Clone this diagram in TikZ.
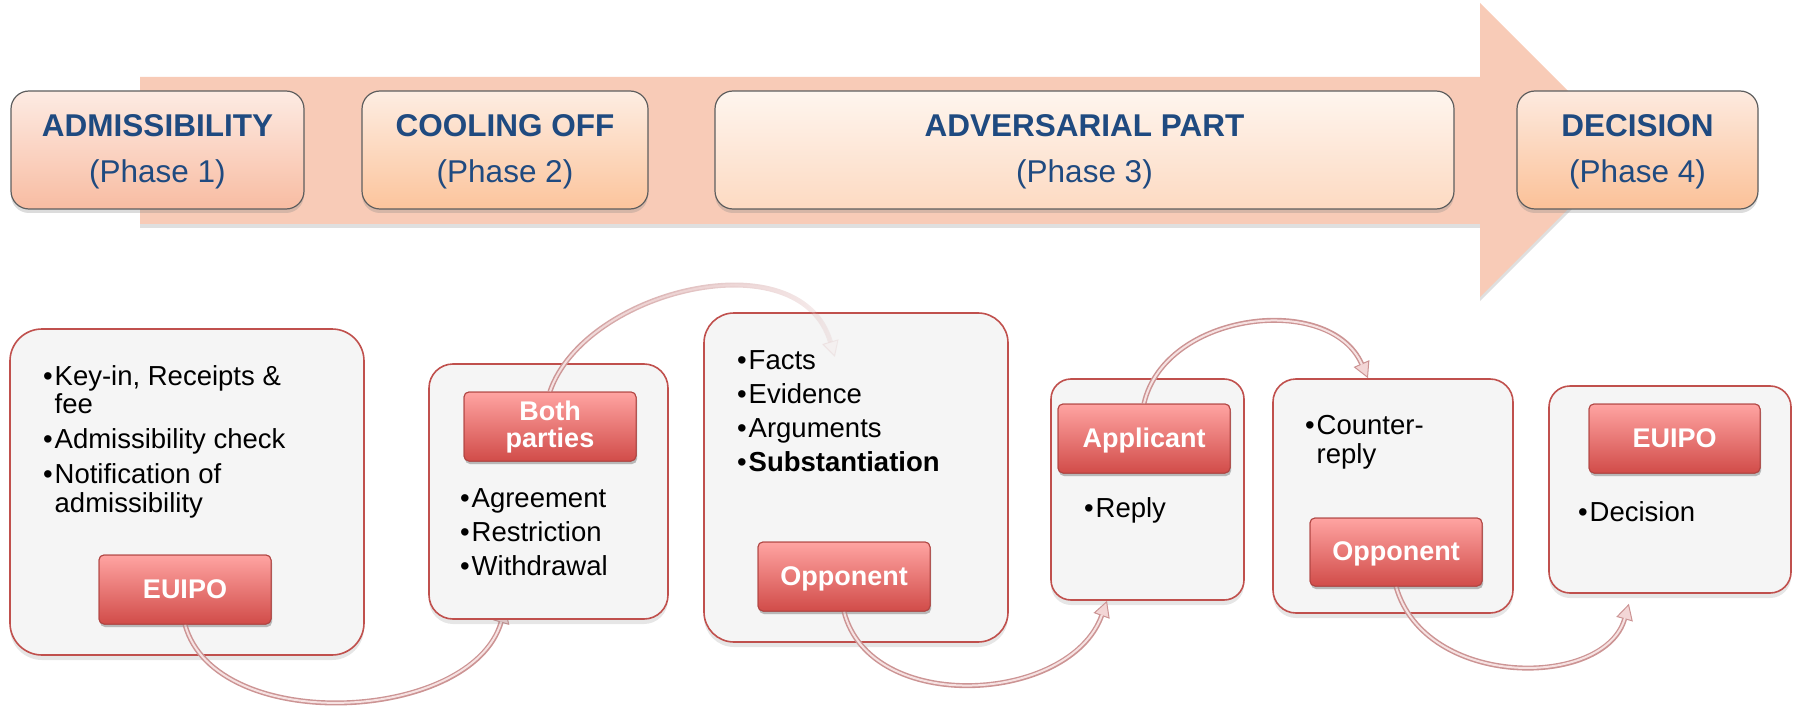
\documentclass[tikz,border=0pt]{standalone}
\usepackage{fontspec}
\setmainfont{Liberation Sans}
\usetikzlibrary{arrows.meta,shadows,fadings,calc}

\definecolor{band}{HTML}{F8CBB7}
\definecolor{boxline}{HTML}{5E5E5E}
\definecolor{titleblue}{HTML}{1F4A80}
\definecolor{pa}{HTML}{FDEBE3}
\definecolor{pab}{HTML}{F8BCA2}
\definecolor{pb}{HTML}{FDEDE2}
\definecolor{pbb}{HTML}{FCC49C}
\definecolor{pc}{HTML}{FEF5EE}
\definecolor{pcb}{HTML}{FDDAC2}
\definecolor{pd}{HTML}{FDEADF}
\definecolor{pdb}{HTML}{FBC198}
\definecolor{stagefill}{HTML}{F5F5F5}
\definecolor{stageline}{HTML}{C0504D}
\definecolor{btntop}{HTML}{FFA4A2}
\definecolor{btnmid}{HTML}{F07371}
\definecolor{btnbot}{HTML}{D14C49}
\definecolor{btnline}{HTML}{B04441}
\definecolor{flowout}{HTML}{CC9494}
\definecolor{flowin}{HTML}{F6E2E2}
\definecolor{flowtip}{HTML}{F3D6D6}

\newcommand{\blt}{\makebox[11.5pt][l]{•}}
\newcommand{\ind}{\hspace*{11.5pt}}

\tikzfading[name=arcfade, left color=transparent!0, middle color=transparent!0, right color=transparent!88]

\tikzset{
  phasebox/.style={draw=boxline, line width=1.2pt, rounded corners=18pt,
    minimum height=118pt, inner sep=0pt,
    drop shadow={opacity=0.28, shadow xshift=0pt, shadow yshift=-4pt}},
  phasetitle/.style={text=titleblue, inner sep=0pt, anchor=base,
    font=\bfseries\fontsize{31.5}{36}\selectfont},
  phasesub/.style={text=titleblue, inner sep=0pt, anchor=base,
    font=\fontsize{31.5}{36}\selectfont},
  stage/.style={draw=stageline, line width=1.6pt, fill=stagefill, inner sep=0pt,
    drop shadow={opacity=0.2, shadow xshift=0pt, shadow yshift=-5pt}},
  btn/.style={draw=btnline, line width=1pt, rounded corners=5pt,
    top color=btntop, middle color=btnmid, bottom color=btnbot,
    minimum width=172pt, minimum height=69pt, inner sep=0pt,
    drop shadow={opacity=0.3, shadow xshift=1pt, shadow yshift=-3pt}},
  btntext/.style={text=white, inner sep=0pt, anchor=base,
    font=\bfseries\fontsize{27}{27}\selectfont},
  list/.style={inner sep=0pt, anchor=base west,
    font=\fontsize{27.5}{28}\selectfont},
  widelist/.style={list, font=\fontsize{27.5}{34}\selectfont},
  flow/.style={draw=flowout, line width=5pt,
    -{Triangle[length=16pt,width=17pt,line width=1pt,fill=flowtip]},
    postaction={draw=flowin, line width=2pt, -, shorten >=15pt}}
}

\begin{document}
\begin{tikzpicture}[x=1pt,y=-1pt]
\useasboundingbox (0,0) rectangle (1796,714);

% broad timeline arrow behind the phases
\fill[band, drop shadow={opacity=0.25, shadow xshift=0pt, shadow yshift=-4pt}]
  (140,77) -- (1480,77) -- (1480,3) -- (1627,150) -- (1480,297)
  -- (1480,224) -- (140,224) -- cycle;

% phase boxes
\node[phasebox, minimum width=293pt, top color=pa, bottom color=pab] (p1) at (157.5,150) {};
\node[phasebox, minimum width=286pt, top color=pb, bottom color=pbb] (p2) at (505,150) {};
\node[phasebox, minimum width=739pt, top color=pc, bottom color=pcb] (p3) at (1084.5,150) {};
\node[phasebox, minimum width=241pt, top color=pd, bottom color=pdb] (p4) at (1637.5,150) {};

\node[phasetitle] (p1t) at (157.5,137) {ADMISSIBILITY};
\node[phasesub]   (p1s) at (157.5,182.5) {(Phase 1)};
\node[phasetitle] (p2t) at (505,137) {COOLING OFF};
\node[phasesub]   (p2s) at (505,182.5) {(Phase 2)};
\node[phasetitle] (p3t) at (1084.5,137) {ADVERSARIAL PART};
\node[phasesub]   (p3s) at (1084.5,182.5) {(Phase 3)};
\node[phasetitle] (p4t) at (1637.5,137) {DECISION};
\node[phasesub]   (p4s) at (1637.5,182.5) {(Phase 4)};

% first stage box and its button
\node[stage, rounded corners=32pt, minimum width=354pt, minimum height=326pt] (B1) at (187,492) {};
\path (185,589.5) node[btn] (b1) {};

% second stage box is placed as a shape only (drawn below), so the first connector can tuck under it
\path (548.5,491.5) node[minimum width=239pt, minimum height=255pt, inner sep=0pt] (B2) {};
\draw[flow] (b1.south) .. controls +(30,111) and +(-34,116) .. ($(B2.-109.2)+(1,-12)$);
\node[stage, rounded corners=24pt, minimum width=239pt, minimum height=255pt] at (B2) {};

\path (550,426.5) node[btn] (b2) {};

% remaining stage boxes
\node[stage, rounded corners=30pt, minimum width=304pt, minimum height=329pt] (B3) at (856,477.5) {};
\node[stage, rounded corners=20pt, minimum width=193pt, minimum height=221pt] (B4) at (1147.5,489.5) {};
\node[stage, rounded corners=23pt, minimum width=240pt, minimum height=234pt] (B5) at (1393,496) {};
\node[stage, rounded corners=21pt, minimum width=242pt, minimum height=207pt] (B6) at (1670,489.5) {};

% connector that fades out inside the third stage
\coordinate (bEnd) at (835,357);
\draw[flow, path fading=arcfade] (b2.north) .. controls +(35,-102) and +(-35,-119) .. (bEnd);

\path (844,576.5) node[btn] (b3) {};
\path (1144,438.5) node[btn] (b4) {};
\path (1396,552) node[btn, minimum height=68pt] (b5) {};
\path (1674.5,438.5) node[btn, minimum width=171pt] (b6) {};

\draw[flow] (b3.south) .. controls +(26,104) and +(-37,103) .. (B4.-110.1);
\draw[flow] (b4.north) .. controls +(21,-92) and +(-38,-86) .. (B5.102.1);
\draw[flow] (b5.south) .. controls +(29,103) and +(-24,85) .. ($(B6.-112.6)+(1,10)$);

% redraw buttons above the connector ends
\node[btn] at (b1) {};
\node[btn] at (b2) {};
\node[btn] at (b3) {};
\node[btn] at (b4) {};
\node[btn, minimum height=68pt] at (b5) {};
\node[btn, minimum width=171pt] at (b6) {};

\node[btntext] (b1t) at (185,598) {EUIPO};
\node[btntext] (b2t) at (550,420) {\begin{tabular}[t]{@{}c@{}}Both\\parties\end{tabular}};
\node[btntext] (b3t) at (844,585) {Opponent};
\node[btntext] (b4t) at (1144,447) {Applicant};
\node[btntext] (b5t) at (1396,560) {Opponent};
\node[btntext] (b6t) at (1674.5,447) {EUIPO};

% bullet lists
\node[list] (l1) at (43,385) {\begin{tabular}[t]{@{}l@{}}\blt Key-in, Receipts \&\\ \ind fee\\[7pt] \blt Admissibility check\\[7pt] \blt Notification of\\ \ind admissibility\end{tabular}};
\node[widelist] (l2) at (460,507) {\begin{tabular}[t]{@{}l@{}}\blt Agreement\\ \blt Restriction\\ \blt Withdrawal\end{tabular}};
\node[widelist] (l3) at (737,369) {\begin{tabular}[t]{@{}l@{}}\blt Facts\\ \blt Evidence\\ \blt Arguments\\ \blt \textbf{Substantiation}\end{tabular}};
\node[list] (l4) at (1084,517) {\blt Reply};
\node[list] (l5) at (1305,434) {\begin{tabular}[t]{@{}l@{}}\blt Counter-\\[1pt] \ind reply\end{tabular}};
\node[list] (l6) at (1578,521) {\blt Decision};
\end{tikzpicture}
\end{document}
